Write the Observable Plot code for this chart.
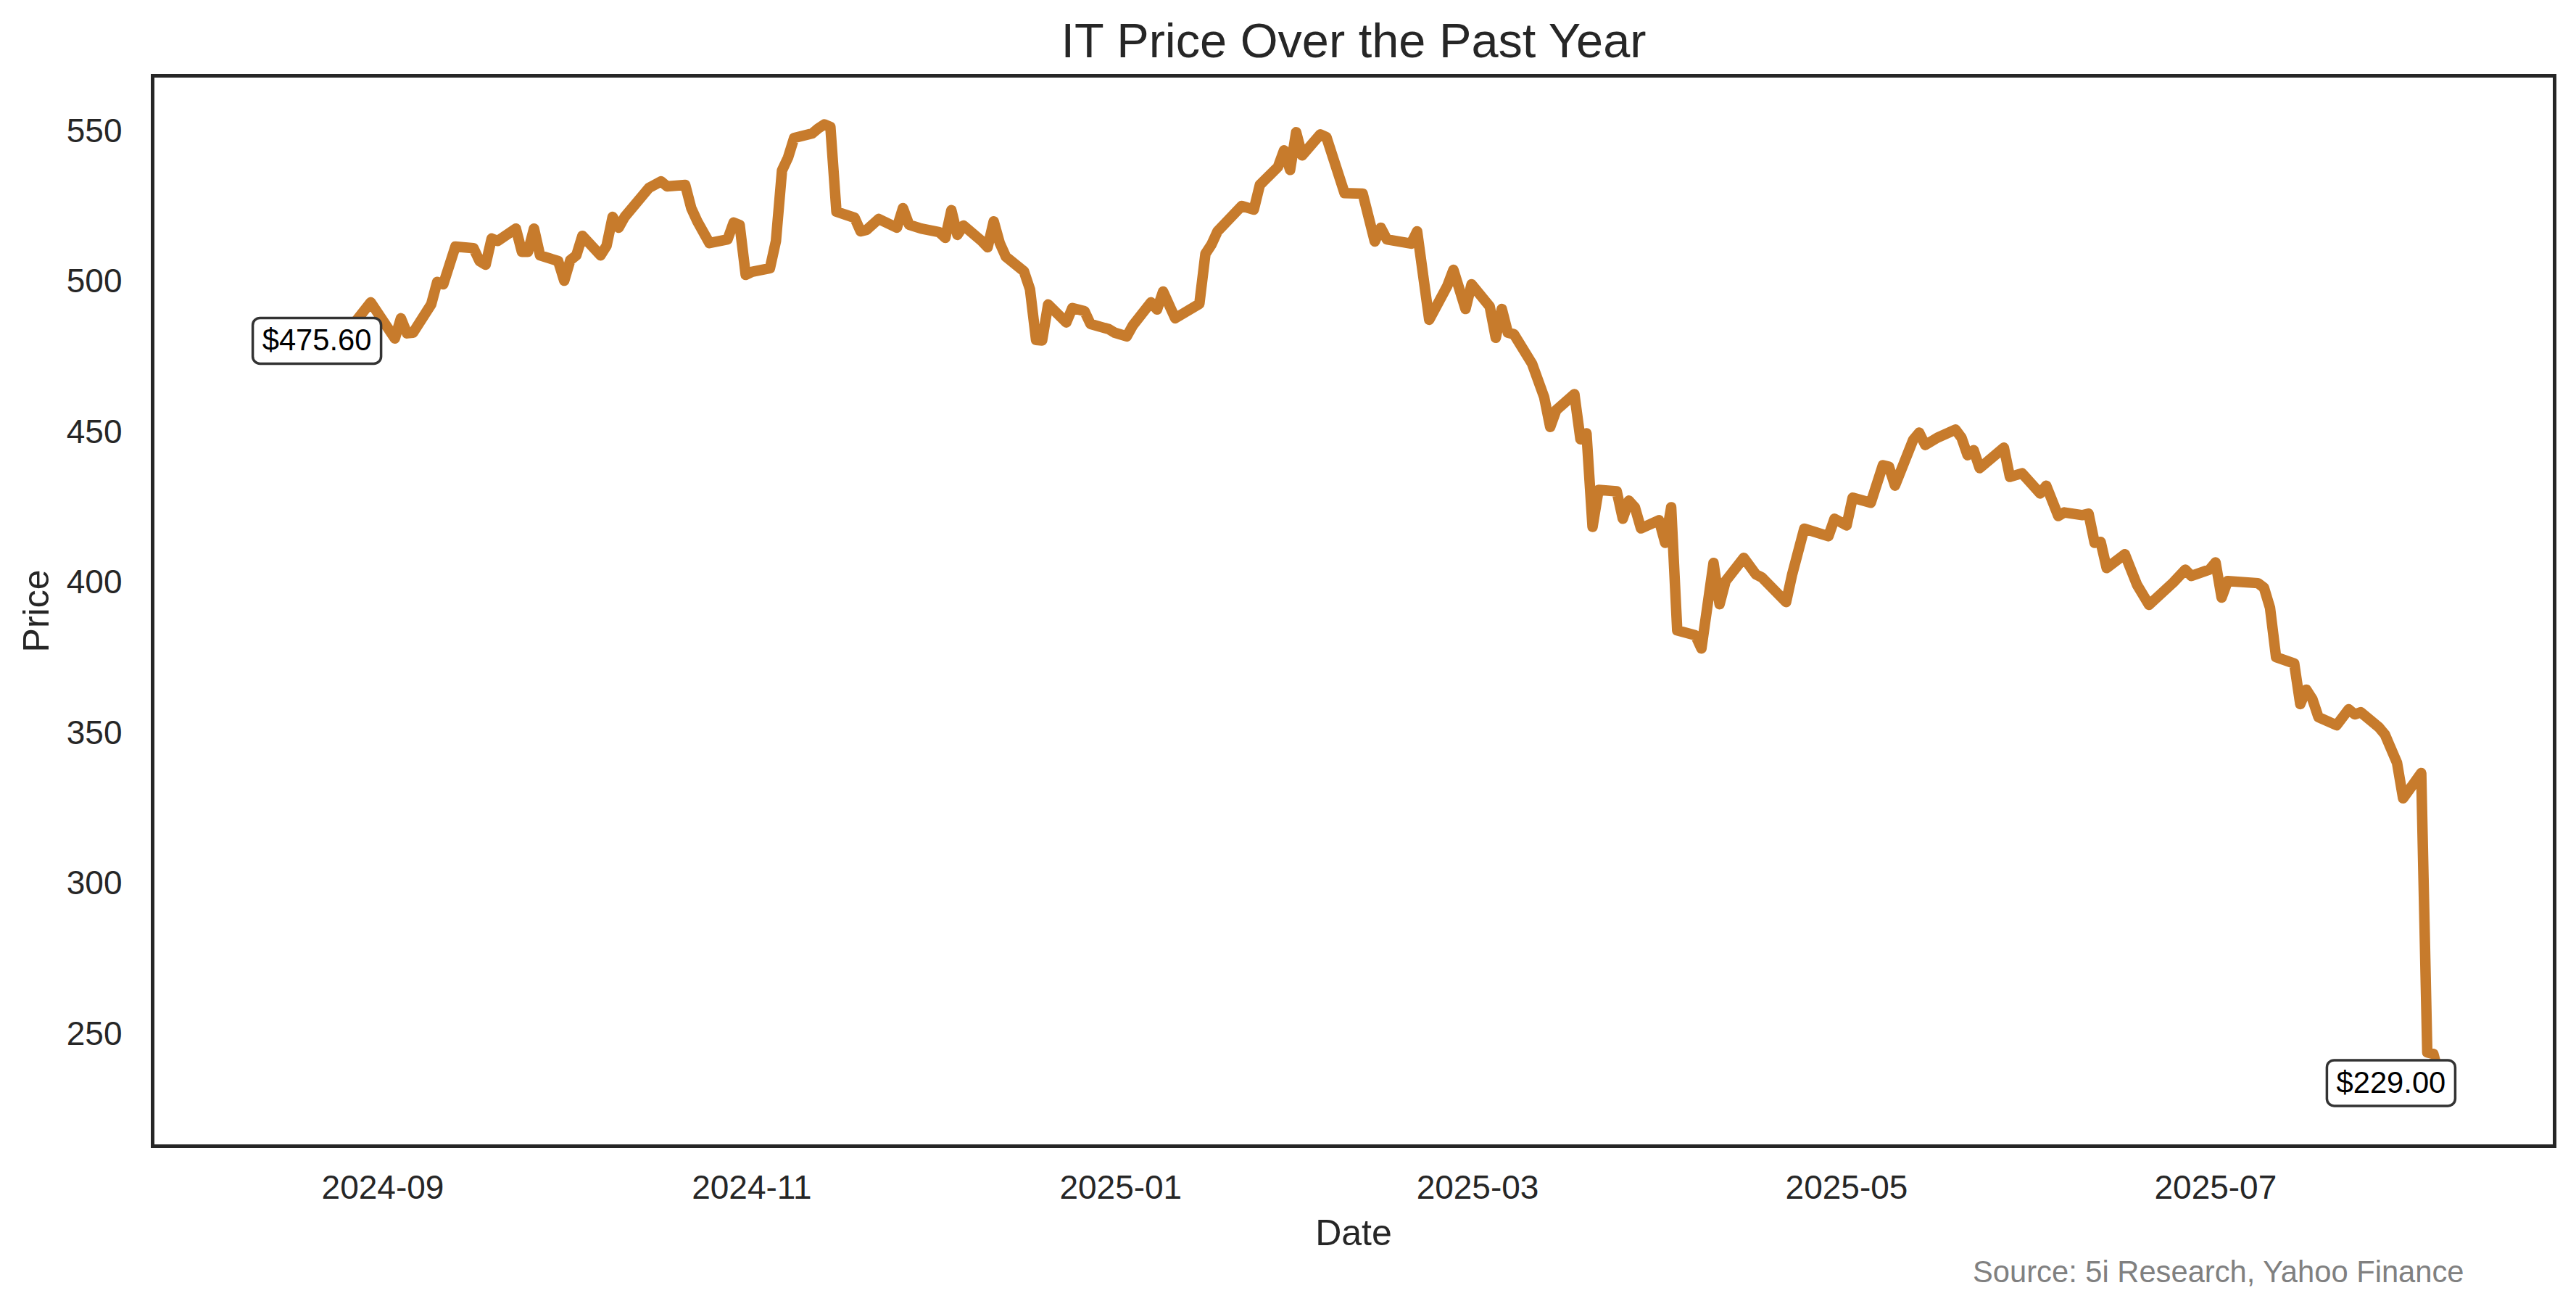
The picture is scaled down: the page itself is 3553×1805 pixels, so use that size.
<!DOCTYPE html>
<html>
<head>
<meta charset="utf-8">
<script src="https://cdn.jsdelivr.net/npm/d3@7"></script>
<script src="https://cdn.jsdelivr.net/npm/@observablehq/plot@0.6"></script>
<style>
  html, body { margin: 0; padding: 0; background: white; }
  #chart svg { display: block; }
</style>
</head>
<body>
<div id="chart"></div>
<script>
// ---- Data ----
const dates = [
  "2024-08-12","2024-08-15","2024-08-20","2024-08-23","2024-08-27","2024-08-30",
  "2024-09-03","2024-09-04","2024-09-05","2024-09-06","2024-09-09","2024-09-10","2024-09-11",
  "2024-09-13","2024-09-16","2024-09-17","2024-09-18","2024-09-19","2024-09-20","2024-09-23",
  "2024-09-24","2024-09-25","2024-09-26","2024-09-27","2024-09-30",
  "2024-10-01","2024-10-02","2024-10-03","2024-10-04","2024-10-07","2024-10-08","2024-10-09",
  "2024-10-10","2024-10-11","2024-10-14","2024-10-15","2024-10-17","2024-10-18","2024-10-21",
  "2024-10-22","2024-10-23","2024-10-25","2024-10-28","2024-10-29","2024-10-30","2024-10-31",
  "2024-11-01","2024-11-04","2024-11-05","2024-11-06","2024-11-07","2024-11-08","2024-11-11",
  "2024-11-12","2024-11-13","2024-11-14","2024-11-15","2024-11-18","2024-11-19","2024-11-20",
  "2024-11-22","2024-11-25","2024-11-26","2024-11-27","2024-11-29",
  "2024-12-02","2024-12-03","2024-12-04","2024-12-05","2024-12-06","2024-12-09","2024-12-10",
  "2024-12-11","2024-12-12","2024-12-13","2024-12-16","2024-12-17","2024-12-18","2024-12-19",
  "2024-12-20","2024-12-23","2024-12-24","2024-12-26","2024-12-27","2024-12-30","2024-12-31",
  "2025-01-02","2025-01-03","2025-01-06","2025-01-07","2025-01-08","2025-01-10","2025-01-14",
  "2025-01-15","2025-01-16","2025-01-17","2025-01-21","2025-01-23","2025-01-24","2025-01-27",
  "2025-01-28","2025-01-29","2025-01-30","2025-01-31",
  "2025-02-03","2025-02-04","2025-02-07","2025-02-10","2025-02-12","2025-02-13","2025-02-14",
  "2025-02-18","2025-02-19","2025-02-21","2025-02-24","2025-02-25","2025-02-27","2025-02-28",
  "2025-03-03","2025-03-04","2025-03-05","2025-03-06","2025-03-07","2025-03-10","2025-03-12",
  "2025-03-13","2025-03-14","2025-03-17","2025-03-18","2025-03-19","2025-03-20","2025-03-21",
  "2025-03-24","2025-03-25","2025-03-26","2025-03-27","2025-03-28","2025-03-31",
  "2025-04-01","2025-04-02","2025-04-03","2025-04-06","2025-04-07","2025-04-09","2025-04-10",
  "2025-04-11","2025-04-14","2025-04-16","2025-04-17","2025-04-21","2025-04-22","2025-04-24",
  "2025-04-28","2025-04-29",
  "2025-05-01","2025-05-02","2025-05-05","2025-05-07","2025-05-08","2025-05-09","2025-05-12",
  "2025-05-13","2025-05-14","2025-05-16","2025-05-19","2025-05-20","2025-05-21","2025-05-22",
  "2025-05-23","2025-05-27","2025-05-28","2025-05-30",
  "2025-06-02","2025-06-03","2025-06-05","2025-06-06","2025-06-09","2025-06-10","2025-06-11",
  "2025-06-12","2025-06-13","2025-06-16","2025-06-18","2025-06-20","2025-06-24","2025-06-26",
  "2025-06-27","2025-06-30",
  "2025-07-01","2025-07-02","2025-07-03","2025-07-08","2025-07-09","2025-07-10","2025-07-11",
  "2025-07-14","2025-07-15","2025-07-16","2025-07-17","2025-07-18","2025-07-21","2025-07-23",
  "2025-07-24","2025-07-25","2025-07-28","2025-07-29","2025-07-31",
  "2025-08-01","2025-08-04","2025-08-05","2025-08-06","2025-08-07","2025-08-08"
];
const prices = [
  475.6, 479, 482, 484, 485.5, 493.2,
  481.2, 487.9, 482.9, 483.1, 492.5, 500, 499.2,
  511.7, 511.2, 506.9, 505.7, 514.4, 513.6, 517.7,
  510, 510, 517.7, 508.8, 506.9,
  500.4, 507.2, 508.8, 515.3, 508.8, 512, 521.6,
  518, 521.6, 528.8, 531.2, 533.4, 531.7, 532.2,
  524.5, 520.1, 512.9, 514.1, 519.7, 518.9, 502.3,
  503.3, 504.5, 513.6, 537, 541.3, 547.8, 549.3,
  551, 552.3, 551.5, 523.3, 521.3, 516.8, 517.3,
  520.9, 518, 524.5, 519, 517.7,
  516.5, 514.6, 523.8, 515.6, 518.7, 513.6, 511.5,
  520.1, 512.9, 508.4, 503.5, 497.5, 480.7, 480.5,
  492.5, 486.5, 491.3, 490.3, 486, 484.3, 483.1,
  481.9, 485.5, 493.2, 490.8, 496.8, 487.9, 492.7,
  509.3, 512.4, 516.8, 525.2, 524, 532.2, 538.2,
  543.7, 537.2, 549.7, 542,
  549, 548.1, 529.5, 529.3, 513.4, 518, 514.1,
  512.7, 516.8, 487.4, 498.7, 504, 491, 499.2,
  491.8, 481.4, 491, 483.1, 482.6, 472.8, 461.7,
  451.8, 457.4, 462.7, 447.7, 449.7, 418.6, 430.9,
  430.4, 421.3, 427.3, 425.1, 418.1, 420.8,
  413.3, 425.1, 384.2, 382.6, 378.2, 406.6, 392.9,
  400.6, 408.3, 402.8, 401.8, 393.6, 402.8, 418,
  415.5, 421.3,
  419.1, 428.3, 426.6, 439.1, 438.6, 432.3, 447.5,
  449.9, 445.8, 448.2, 450.9, 448.2, 442.4, 444.1,
  438.1, 444.9, 435.2, 436.4,
  429.7, 432.3, 422.2, 423.4, 422.5, 423, 413.3,
  413.6, 404.9, 409.5, 399.4, 392.7, 400.1, 404.4,
  402.3, 404.4,
  406.8, 395.1, 400.6, 399.9, 398.4, 391.7, 375.3,
  373.2, 359.7, 364.5, 361.4, 355.4, 352.7, 358,
  356.3, 357, 352, 349.6, 340.2,
  328.4, 336.8, 244, 243.5, 236, 229
];
const xTickLabels = ["2024-09", "2024-11", "2025-01", "2025-03", "2025-05", "2025-07"];
const yTicks = [250, 300, 350, 400, 450, 500, 550];
const titleText = "IT Price Over the Past Year";
const xLabel = "Date";
const yLabel = "Price";
const sourceText = "Source: 5i Research, Yahoo Finance";

// ---- Build table ----
const parse = d3.utcParse("%Y-%m-%d");
const data = dates.map((d, i) => ({date: parse(d), price: prices[i]}));
const first = data[0];
const last = data[data.length - 1];
const xTicks = xTickLabels.map(s => d3.utcParse("%Y-%m")(s));

// matplotlib-like 5% margins around data extent
const pad = (ext) => { const r = ext[1] - ext[0]; return [ext[0] - 0.05 * r, ext[1] + 0.05 * r]; };
const xe = d3.extent(data, d => +d.date);
const xDomain = pad(xe).map(t => new Date(t));
const yDomain = pad(d3.extent(data, d => d.price));

const lineColor = "#c77b2c";
const ink = "#262626";
const font = "'Liberation Sans', Arial, Helvetica, sans-serif";

// rounded label box symbol (pixel-sized)
const roundedBox = {
  draw(context) {
    const w = 177, h = 63, r = 10;
    const x0 = -w / 2, y0 = -h / 2, x1 = w / 2, y1 = h / 2;
    context.moveTo(x0 + r, y0);
    context.lineTo(x1 - r, y0);
    context.arcTo(x1, y0, x1, y0 + r, r);
    context.lineTo(x1, y1 - r);
    context.arcTo(x1, y1, x1 - r, y1, r);
    context.lineTo(x0 + r, y1);
    context.arcTo(x0, y1, x0, y1 - r, r);
    context.lineTo(x0, y0 + r);
    context.arcTo(x0, y0, x0 + r, y0, r);
    context.closePath();
  }
};
const fmt = d => "$" + d.price.toFixed(2);

const chart = Plot.plot({
  width: 3553,
  height: 1805,
  marginTop: 104,
  marginRight: 30,
  marginBottom: 225,
  marginLeft: 210,
  style: {fontFamily: font, background: "white", color: ink},
  x: {type: "utc", domain: xDomain},
  y: {domain: yDomain},
  marks: [
    Plot.axisX({ticks: xTicks, tickFormat: d3.utcFormat("%Y-%m"), tickSize: 0, tickPadding: 40,
                fontSize: 46, fill: ink, label: null}),
    Plot.axisY({ticks: yTicks, tickSize: 0, tickPadding: 42, fontSize: 46, fill: ink, label: null}),
    Plot.line(data, {x: "date", y: "price", stroke: lineColor, strokeWidth: 14.5,
                     strokeLinejoin: "round", strokeLinecap: "round"}),
    Plot.dot([first], {x: "date", y: "price", symbol: roundedBox, r: 10, fill: "white",
                       stroke: "#333333", strokeWidth: 3.5, dx: 76, dy: -20}),
    Plot.text([first], {x: "date", y: "price", text: fmt, dx: 76, dy: -20,
                        fontSize: 41.7, fill: "black"}),
    Plot.dot([last], {x: "date", y: "price", symbol: roundedBox, r: 10, fill: "white",
                      stroke: "#333333", strokeWidth: 3.5, dx: -75, dy: -20}),
    Plot.text([last], {x: "date", y: "price", text: fmt, dx: -75, dy: -20,
                       fontSize: 41.7, fill: "black"}),
    Plot.frame({stroke: ink, strokeWidth: 5}),
    Plot.text([titleText], {text: d => d, frameAnchor: "top", lineAnchor: "middle", dy: -47,
                            fontSize: 66.7, fill: ink}),
    Plot.text([yLabel], {text: d => d, frameAnchor: "left", textAnchor: "middle", lineAnchor: "middle",
                         dx: -160, rotate: -90, fontSize: 50, fill: ink}),
    Plot.text([xLabel], {text: d => d, frameAnchor: "bottom", lineAnchor: "middle", dy: 120,
                         fontSize: 50, fill: ink}),
    Plot.text([sourceText], {text: d => d, frameAnchor: "bottom-right", textAnchor: "end",
                             lineAnchor: "middle", dx: -125, dy: 174, fontSize: 41.7, fill: "#808080"})
  ]
});
document.getElementById("chart").appendChild(chart);
</script>
</body>
</html>
